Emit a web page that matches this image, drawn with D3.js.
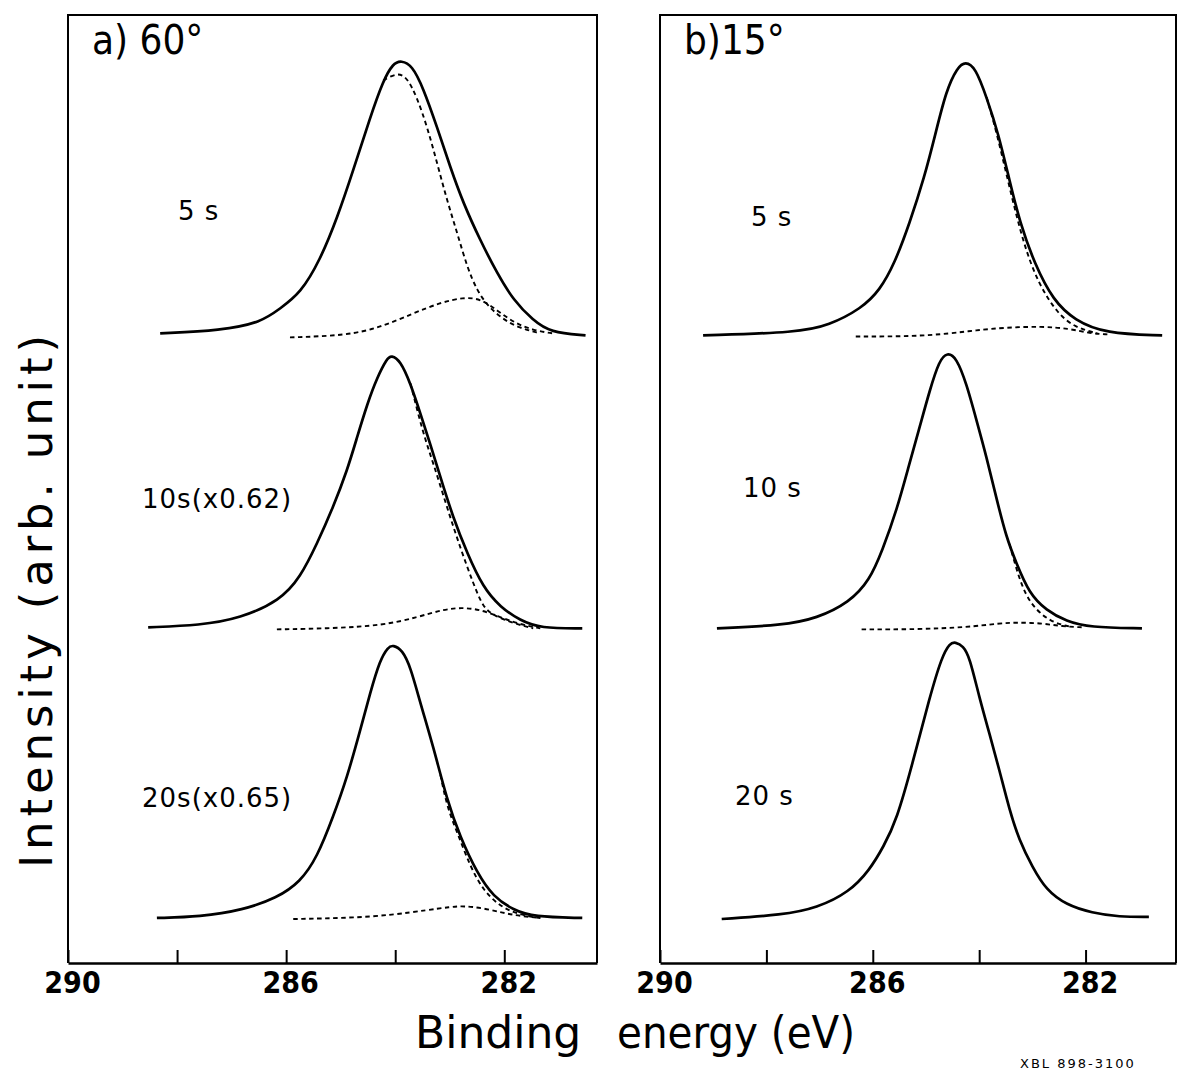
<!DOCTYPE html>
<html>
<head>
<meta charset="utf-8">
<script src="https://cdn.jsdelivr.net/npm/d3@7"></script>
<style>
  body { margin: 0; background: #fff; }
  svg { display: block; }
</style>
</head>
<body>
<svg id="chart"></svg>
<script>
// binding energy (eV) vs intensity above each spectrum's own baseline (arb.)
const energyDomain = [290, 280.3];
const intensityDomain = [0, 100];
const tickValues = [290, 288, 286, 284, 282];
const tickLabels = [290, 286, 282];

// panel a) 60 deg
const a05Sum = [[288.31,0.21],[287.19,0.53],[286.46,1.37],[286.11,2.85],[285.74,4.43],[285.38,7.91],[285.06,12.45],[284.77,17.41],[284.46,23.0],[284.22,26.9],[284.04,28.69],[283.89,29.01],[283.69,28.48],[283.49,26.16],[283.23,21.94],[282.99,17.72],[282.75,13.92],[282.44,10.02],[282.13,6.54],[281.83,3.69],[281.47,1.58],[281.16,0.32],[280.51,0]];
const a05Main = [[284.22,26.9],[283.96,27.74],[283.78,27.2],[283.60,25.1],[283.41,21.94],[283.23,18.14],[283.05,14.24],[282.86,10.76],[282.68,7.17],[282.50,4.75],[282.31,3.16],[282.07,1.90],[281.76,0.84],[281.34,0.21]];
const a05Minor = [[285.93,-0.21],[284.88,0],[284.28,0.84],[283.67,2.32],[283.17,3.48],[282.75,4.01],[282.44,3.9],[282.13,2.64],[281.83,1.37],[281.47,0.53],[281.10,0.21]];

const a10Sum = [[288.53,0.11],[287.58,0.32],[286.84,1.05],[286.11,2.95],[285.74,5.38],[285.43,8.97],[285.14,12.76],[284.88,16.67],[284.70,20.15],[284.51,23.73],[284.33,26.48],[284.15,28.48],[284.07,28.80],[283.91,28.27],[283.72,25.84],[283.54,22.68],[283.36,19.51],[283.17,15.93],[282.94,11.71],[282.68,7.91],[282.39,4.32],[282.07,2.22],[281.71,0.84],[281.34,0],[280.57,0]];
const a10Main = [[283.72,25.84],[283.49,20.57],[283.30,17.41],[283.05,12.76],[282.81,8.54],[282.57,4.75],[282.39,2.22],[282.20,1.37],[281.83,0.53],[281.47,0]];
const a10Minor = [[286.17,-0.11],[285.14,0],[284.22,0.32],[283.60,1.16],[283.12,2.00],[282.75,2.22],[282.39,1.90],[282.07,1.16],[281.71,0.42],[281.34,0]];

const a20Sum = [[288.37,0],[287.58,0.11],[286.79,0.84],[286.17,2.11],[285.74,3.80],[285.43,6.43],[285.14,10.65],[284.88,14.87],[284.64,19.83],[284.46,23.73],[284.28,27.22],[284.13,28.59],[284.04,28.80],[283.87,28.27],[283.72,26.48],[283.54,22.68],[283.30,18.04],[283.05,12.45],[282.81,8.54],[282.50,4.75],[282.20,2.22],[281.83,0.84],[281.47,0.11],[280.57,0]];
const a20Main = [[283.17,15.1],[283.05,11.71],[282.86,8.97],[282.62,5.38],[282.39,2.95],[282.07,1.16],[281.71,0.32],[281.34,0]];
const a20Minor = [[285.87,-0.11],[284.83,0],[284.04,0.32],[283.41,0.84],[282.99,1.16],[282.75,1.27],[282.39,1.05],[282.02,0.53],[281.71,0.21],[281.34,0]];

// panel b) 15 deg
const b05Sum = [[289.19,0],[287.39,0.32],[286.83,1.05],[286.21,2.85],[285.87,4.75],[285.59,7.59],[285.31,11.81],[285.03,16.67],[284.82,21.31],[284.62,25.84],[284.41,28.27],[284.26,28.90],[284.07,28.27],[283.86,25.11],[283.64,21.31],[283.43,16.35],[283.23,11.81],[282.96,7.59],[282.61,3.69],[282.20,1.58],[281.63,0.21],[280.56,0]];
const b05Main = [[283.86,25.11],[283.68,21.62],[283.43,15.61],[283.17,9.70],[282.89,5.49],[282.53,2.32],[282.20,0.84],[281.78,0.21]];
const b05Minor = [[286.32,-0.11],[285.23,-0.11],[284.54,0.21],[284.07,0.53],[283.51,0.84],[282.81,0.95],[282.33,0.74],[281.91,0.21],[281.58,0.11]];

const b10Sum = [[288.93,0],[287.69,0.32],[287.05,1.05],[286.44,2.74],[286.06,5.06],[285.82,8.23],[285.55,12.45],[285.31,17.41],[285.12,21.20],[284.93,25.11],[284.75,28.27],[284.60,29.11],[284.43,28.59],[284.24,25.84],[284.05,21.94],[283.86,18.04],[283.68,13.82],[283.49,9.60],[283.30,6.86],[283.06,3.69],[282.74,1.90],[282.36,0.74],[281.93,0.11],[280.94,0]];
const b10Main = [[283.43,8.9],[283.19,4.01],[282.93,1.90],[282.63,0.63],[282.31,0.21]];
const b10Minor = [[286.21,-0.11],[285.18,-0.11],[284.24,0.11],[283.62,0.53],[283.25,0.63],[282.81,0.53],[282.44,0.21],[282.06,0.11]];

const b20Sum = [[288.84,-0.11],[287.69,0.32],[287.05,1.05],[286.44,2.74],[286.06,5.06],[285.80,7.5],[285.55,10.34],[285.25,16.35],[284.93,23.31],[284.70,27.6],[284.55,29.0],[284.45,29.11],[284.30,28.7],[284.18,27.53],[284.00,23.31],[283.81,19.51],[283.62,15.61],[283.43,11.39],[283.25,8.23],[283.00,5.38],[282.74,2.95],[282.36,1.37],[281.88,0.53],[281.37,0.11],[280.81,0.11]];

// vertical offset of each spectrum (arb.)
const offsetsA = [66.2, 35.3, 4.75];
const offsetsB = [66.2, 35.3, 4.75];
const labelsA = ["5 s", "10s(x0.62)", "20s(x0.65)"];
const labelsB = ["5 s", "10 s", "20 s"];

const W = 1178, H = 1071;
const plotTop = 15, plotBottom = 963;

const svg = d3.select('#chart').attr('width', W).attr('height', H);

const panels = [
    {title: 'a) 60°', left: 68, right: 597, offsets: offsetsA, labels: labelsA,
     labelPos: [[178, 220], [142, 508], [142, 807]],
     spectra: [[a05Sum, a05Main, a05Minor], [a10Sum, a10Main, a10Minor], [a20Sum, a20Main, a20Minor]]},
    {title: 'b)15°', left: 660, right: 1176, offsets: offsetsB, labels: labelsB,
     labelPos: [[751, 226], [743, 497], [735, 805]],
     spectra: [[b05Sum, b05Main, b05Minor], [b10Sum, b10Main, b10Minor], [b20Sum]]}
];

const yscale = d3.scaleLinear().domain(intensityDomain).range([plotBottom, plotTop]);

panels.forEach(p => {
    const xscale = d3.scaleLinear().domain(energyDomain).range([p.left, p.right]);
    const g = svg.append('g');

    // frame
    g.append('path')
        .attr('d', `M${p.left},${plotBottom}V${plotTop}H${p.right}V${plotBottom}`)
        .attr('fill', 'none')
        .attr('stroke', '#000')
        .attr('stroke-width', 2);

    const xaxis = d3.axisBottom(xscale)
        .tickValues(tickValues)
        .tickSizeInner(-13)
        .tickSizeOuter(0)
        .tickPadding(9)
        .tickFormat(d => tickLabels.includes(d) ? d : '');

    const ag = g.append('g')
        .attr('transform', `translate(0, ${plotBottom})`)
        .call(xaxis);
    ag.select('.domain').attr('stroke-width', 2.5);
    ag.selectAll('.tick line').attr('stroke-width', 2);
    ag.selectAll('.tick text')
        .attr('font-family', '"DejaVu Sans Condensed", "DejaVu Sans", sans-serif')
        .attr('font-weight', 'bold')
        .attr('font-size', 30)
        .attr('dx', 4)
        .attr('fill', '#000');

    g.append('text')
        .attr('x', p.left + 24)
        .attr('y', 54)
        .attr('font-family', '"DejaVu Sans Condensed", "DejaVu Sans", sans-serif')
        .attr('font-size', 40)
        .text(p.title);

    p.spectra.forEach((curves, i) => {
        const off = p.offsets[i];
        const line = d3.line()
            .x(d => xscale(d[0]))
            .y(d => yscale(d[1] + off))
            .curve(d3.curveBasis);

        // fitted components, dashed
        curves.slice(1).forEach(c => {
            g.append('path')
                .attr('d', line(c))
                .attr('fill', 'none')
                .attr('stroke', '#000')
                .attr('stroke-width', 1.9)
                .attr('stroke-dasharray', '4.5,3.5');
        });

        // measured spectrum
        g.append('path')
            .attr('d', line(curves[0]))
            .attr('fill', 'none')
            .attr('stroke', '#000')
            .attr('stroke-width', 2.7)
            .attr('stroke-linejoin', 'round');

        g.append('text')
            .attr('x', p.labelPos[i][0])
            .attr('y', p.labelPos[i][1])
            .attr('font-family', '"DejaVu Sans", sans-serif')
            .attr('font-size', 26)
            .attr('letter-spacing', 1)
            .text(p.labels[i]);
    });
});

// axis titles
svg.append('text')
    .attr('x', 415)
    .attr('y', 1048)
    .attr('font-family', '"DejaVu Sans", sans-serif')
    .attr('font-size', 44)
    .text('Binding');

svg.append('text')
    .attr('x', 617)
    .attr('y', 1048)
    .attr('font-family', '"DejaVu Sans", sans-serif')
    .attr('font-size', 44)
    .attr('textLength', 238)
    .attr('lengthAdjust', 'spacingAndGlyphs')
    .text('energy (eV)');

svg.append('text')
    .attr('transform', 'translate(52, 868) rotate(-90)')
    .attr('font-family', '"DejaVu Sans", sans-serif')
    .attr('font-size', 45)
    .attr('textLength', 533)
    .attr('lengthAdjust', 'spacing')
    .text('Intensity (arb. unit)');

svg.append('text')
    .attr('x', 1020)
    .attr('y', 1068)
    .attr('font-family', '"DejaVu Sans", sans-serif')
    .attr('font-size', 13)
    .attr('letter-spacing', 2)
    .text('XBL 898-3100');
</script>
</body>
</html>
